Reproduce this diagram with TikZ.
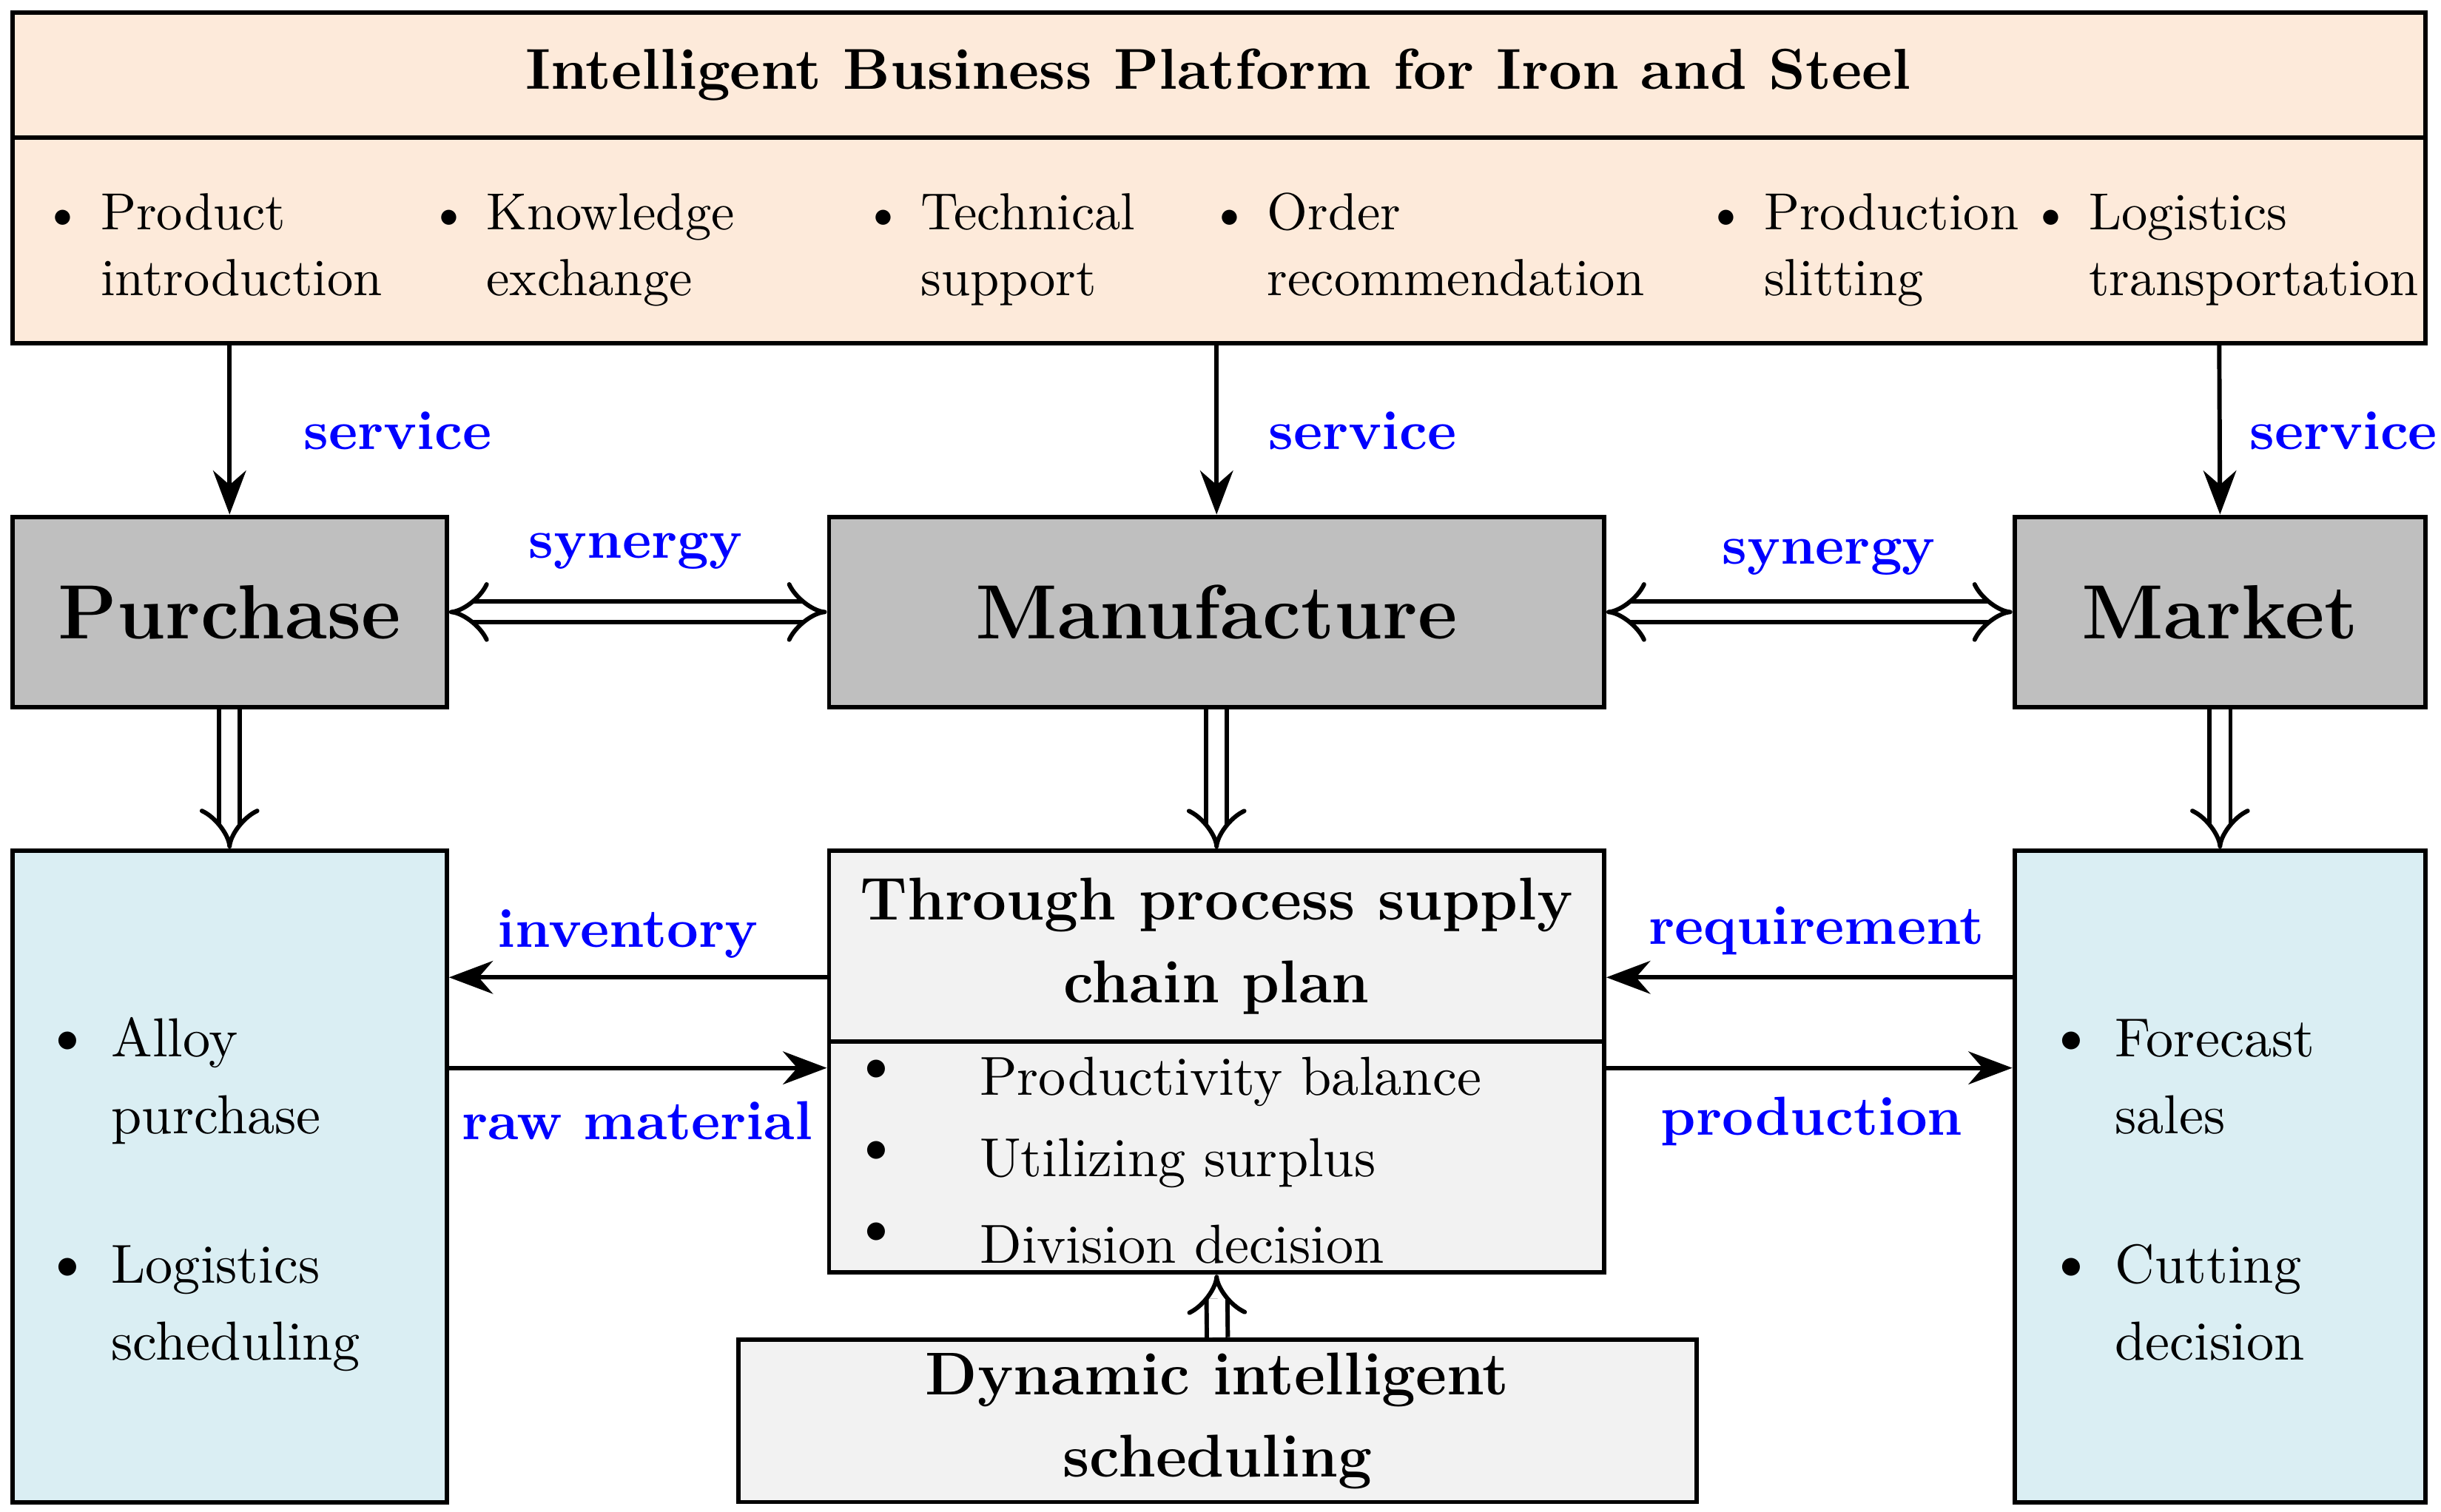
\documentclass[tikz,border=0pt]{standalone}
\usepackage{tikz}
\usetikzlibrary{arrows.meta}
\definecolor{topfill}{RGB}{253,234,218}
\definecolor{greyfill}{RGB}{191,191,191}
\definecolor{cyanfill}{RGB}{218,238,243}
\definecolor{lightfill}{RGB}{242,242,242}
\tikzset{
  box/.style={draw=black,thick,inner sep=0pt},
  lbl/.style={text=blue,font=\fontsize{10}{12}\selectfont\bfseries},
  big/.style={font=\fontsize{14}{18}\selectfont\bfseries},
  item/.style={font=\fontsize{9}{11}\selectfont,align=left,anchor=north west},
  thin arrow/.style={thick,-{Stealth[length=8pt,width=6pt]}},
  hollow/.style={double,double distance=3pt,thick,-{Implies[length=8pt]}},
  hollow2/.style={double,double distance=3pt,thick,{Implies[length=8pt]}-{Implies[length=8pt]}}
}
\begin{document}
\begin{tikzpicture}[x=0.01cm,y=-0.01cm]
                \useasboundingbox (0,0) rectangle (1563,968);
                % top platform
                \draw[box,fill=topfill] (8,8) rectangle (1553,220);
                \draw[thick] (8,88) -- (1553,88);
                \node[font=\fontsize{10.5}{13}\selectfont\bfseries] (title) at (780,48) {Intelligent Business Platform for Iron and Steel};
                \foreach \x/\t in {15/{Product\\introduction},262/{Knowledge\\exchange},540/{Technical\\support},762/{Order\\recommendation},1080/{Production\\slitting},1288/{Logistics\\transportation}}
                    \node[item,font=\fontsize{9.5}{12}\selectfont] at (\x,105) {\textbullet\ \begin{tabular}[t]{@{}l@{}}\t\end{tabular}};
                % top anchors
                \coordinate (tp1) at (147,220);
                \coordinate (tp2) at (779,220);
                \coordinate (tp3) at (1421,220);
                % middle row
                \node[box,fill=greyfill,text width=2.78cm,minimum height=1.22cm,align=center,big] (pur) at (147,392) {Purchase};
                \node[box,fill=greyfill,text width=4.96cm,minimum height=1.22cm,align=center,big] (man) at (779,392) {Manufacture};
                \node[box,fill=greyfill,text width=2.63cm,minimum height=1.22cm,align=center,big] (mar) at (1421.5,392) {Market};
                % lower row
                \node[box,fill=cyanfill,minimum width=2.78cm,minimum height=4.17cm] (lbox) at (147,753.5) {};
                \node[box,fill=cyanfill,minimum width=2.63cm,minimum height=4.17cm] (rbox) at (1421.5,753.5) {};
                \node[box,fill=lightfill,minimum width=4.96cm,minimum height=1.22cm,align=center,font=\fontsize{11}{15}\selectfont\bfseries] (plan) at (779,606) {Through process supply\\chain plan};
                \node[box,fill=lightfill,minimum width=4.96cm,minimum height=1.48cm] (list) at (779,741) {};
                \node[box,fill=lightfill,minimum width=6.13cm,minimum height=1.04cm,align=center,font=\fontsize{11}{15}\selectfont\bfseries] (dyn) at (779.5,910) {Dynamic intelligent\\scheduling};
                % bullet lists
                \node[item,font=\fontsize{10}{14}\selectfont] at (15,630) {{\large\textbullet}\ \begin{tabular}[t]{@{}l@{}}Alloy\\purchase\end{tabular}};
                \node[item,font=\fontsize{10}{14}\selectfont] at (15,775) {{\large\textbullet}\ \begin{tabular}[t]{@{}l@{}}Logistics\\scheduling\end{tabular}};
                \node[item,font=\fontsize{10}{14}\selectfont] at (1298,630) {{\large\textbullet}\ \begin{tabular}[t]{@{}l@{}}Forecast\\sales\end{tabular}};
                \node[item,font=\fontsize{10}{14}\selectfont] at (1298,775) {{\large\textbullet}\ \begin{tabular}[t]{@{}l@{}}Cutting\\decision\end{tabular}};
                \foreach \y/\t in {693/Productivity balance,745/Utilizing surplus,797/Division decision} {
                    \node[font=\fontsize{12}{14}\selectfont] at (561,\y-6) {\textbullet};
                    \node[font=\fontsize{10}{12}\selectfont,anchor=west] at (615,\y) {\t};
                }
                % service arrows
                \draw[thin arrow] (tp1) -- (pur.north);
                \draw[thin arrow] (tp2) -- (man.north);
                \draw[thin arrow] (tp3) -- (mar.north);
                \node[lbl,anchor=west] at (182,276) {service};
                \node[lbl,anchor=west] at (800,276) {service};
                \node[lbl,anchor=west] at (1428,276) {service};
                % synergy
                \draw[hollow2] (pur.east) -- (man.west);
                \draw[hollow2] (man.east) -- (mar.west);
                \node[lbl] at (407,353) {synergy};
                \node[lbl] at (1171,357) {synergy};
                % hollow down arrows
                \draw[hollow] (pur.south) -- (lbox.north);
                \draw[hollow] (man.south) -- (plan.north);
                \draw[hollow] (mar.south) -- (rbox.north);
                \draw[hollow] (dyn.north) -- (list.south);
                % flows
                \draw[thin arrow] (plan.west |- 0,626) -- (lbox.east |- 0,626);
                \draw[thin arrow] (lbox.east |- 0,684) -- (list.west |- 0,684);
                \draw[thin arrow] (rbox.west |- 0,626) -- (plan.east |- 0,626);
                \draw[thin arrow] (list.east |- 0,684) -- (rbox.west |- 0,684);
                \node[lbl] at (402,598) {inventory};
                \node[lbl] at (408,718) {raw material};
                \node[lbl] at (1163,596) {requirement};
                \node[lbl] at (1160,718) {production};
\end{tikzpicture}
\end{document}
